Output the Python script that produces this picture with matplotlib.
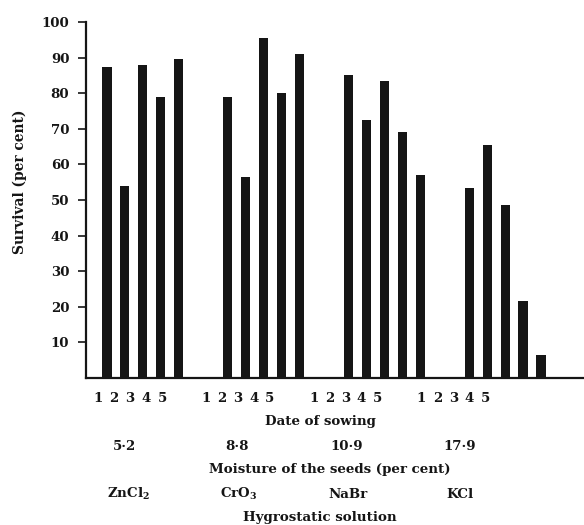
import matplotlib
matplotlib.use("Agg")
import matplotlib.pyplot as plt

# Data
dates = ["1", "2", "3", "4", "5"]
moisture = ["5·2", "8·8", "10·9", "17·9"]
solutions = ["ZnCl$_\\mathbf{2}$", "CrO$_\\mathbf{3}$", "NaBr", "KCl"]
survival_zncl2 = [87.5, 54, 88, 79, 89.5]
survival_cro3 = [79, 56.5, 95.5, 80, 91]
survival_nabr = [85, 72.5, 83.5, 69, 57]
survival_kcl = [53.5, 65.5, 48.5, 21.5, 6.5]
groups = [survival_zncl2, survival_cro3, survival_nabr, survival_kcl]
yticks = [10, 20, 30, 40, 50, 60, 70, 80, 90, 100]

plt.rcParams['font.family'] = ['DejaVu Serif']
plt.rcParams['font.weight'] = 'bold'
plt.rcParams['mathtext.fontset'] = 'dejavuserif'
FS = 9.6
ink = "#151515"

fig = plt.figure(figsize=(5.84, 5.25), dpi=100)
W, H = 584, 525
ax = fig.add_axes([86 / W, 1 - 378 / H, 1 - 86 / W, (378 - 22) / H])

gap = 6.75
for g, vals in enumerate(groups):
    xs = [g * gap + i for i in range(len(vals))]
    ax.bar(xs, vals, width=0.52, color=ink, edgecolor=ink, linewidth=0)

ax.set_xlim(-1.17, -1.17 + (W - 86) / 17.9)
ax.set_ylim(0, 100)

# x tick labels (date of sowing), placed slightly compressed as in the reference
lab_gap = 6.02
lab_step = 0.894
xt, xl = [], []
for g in range(len(groups)):
    for i, d in enumerate(dates):
        xt.append(-0.5 + g * lab_gap + i * lab_step)
        xl.append(d)
ax.set_xticks(xt)
ax.set_xticklabels(xl, fontsize=FS, fontweight='bold')
ax.tick_params(axis='x', length=0, pad=10, colors=ink)

ax.set_yticks(yticks)
ax.set_yticklabels([str(v) for v in yticks], fontsize=FS, fontweight='bold')
ax.tick_params(axis='y', length=6, width=1.2, direction='out', pad=6, colors=ink)

for s in ['top', 'right']:
    ax.spines[s].set_visible(False)
for s in ['left', 'bottom']:
    ax.spines[s].set_linewidth(1.6)
    ax.spines[s].set_color(ink)

ax.set_ylabel("Survival (per cent)", fontsize=FS + 0.3, fontweight='bold', color=ink)
ax.yaxis.set_label_coords(-0.118, 0.55)

def ftext(px, py, s):
    fig.text(px / W, 1 - py / H, s, ha='center', va='center',
             fontsize=FS, fontweight='bold', color=ink)

ftext(320, 421, "Date of sowing")
for px, m in zip([124, 237, 347, 460], moisture):
    ftext(px, 446, m)
ftext(330, 469, "Moisture of the seeds (per cent)")
for px, s in zip([128, 239, 348, 460], solutions):
    ftext(px, 494, s)
ftext(320, 517, "Hygrostatic solution")

fig.savefig("out.png", dpi=100)
